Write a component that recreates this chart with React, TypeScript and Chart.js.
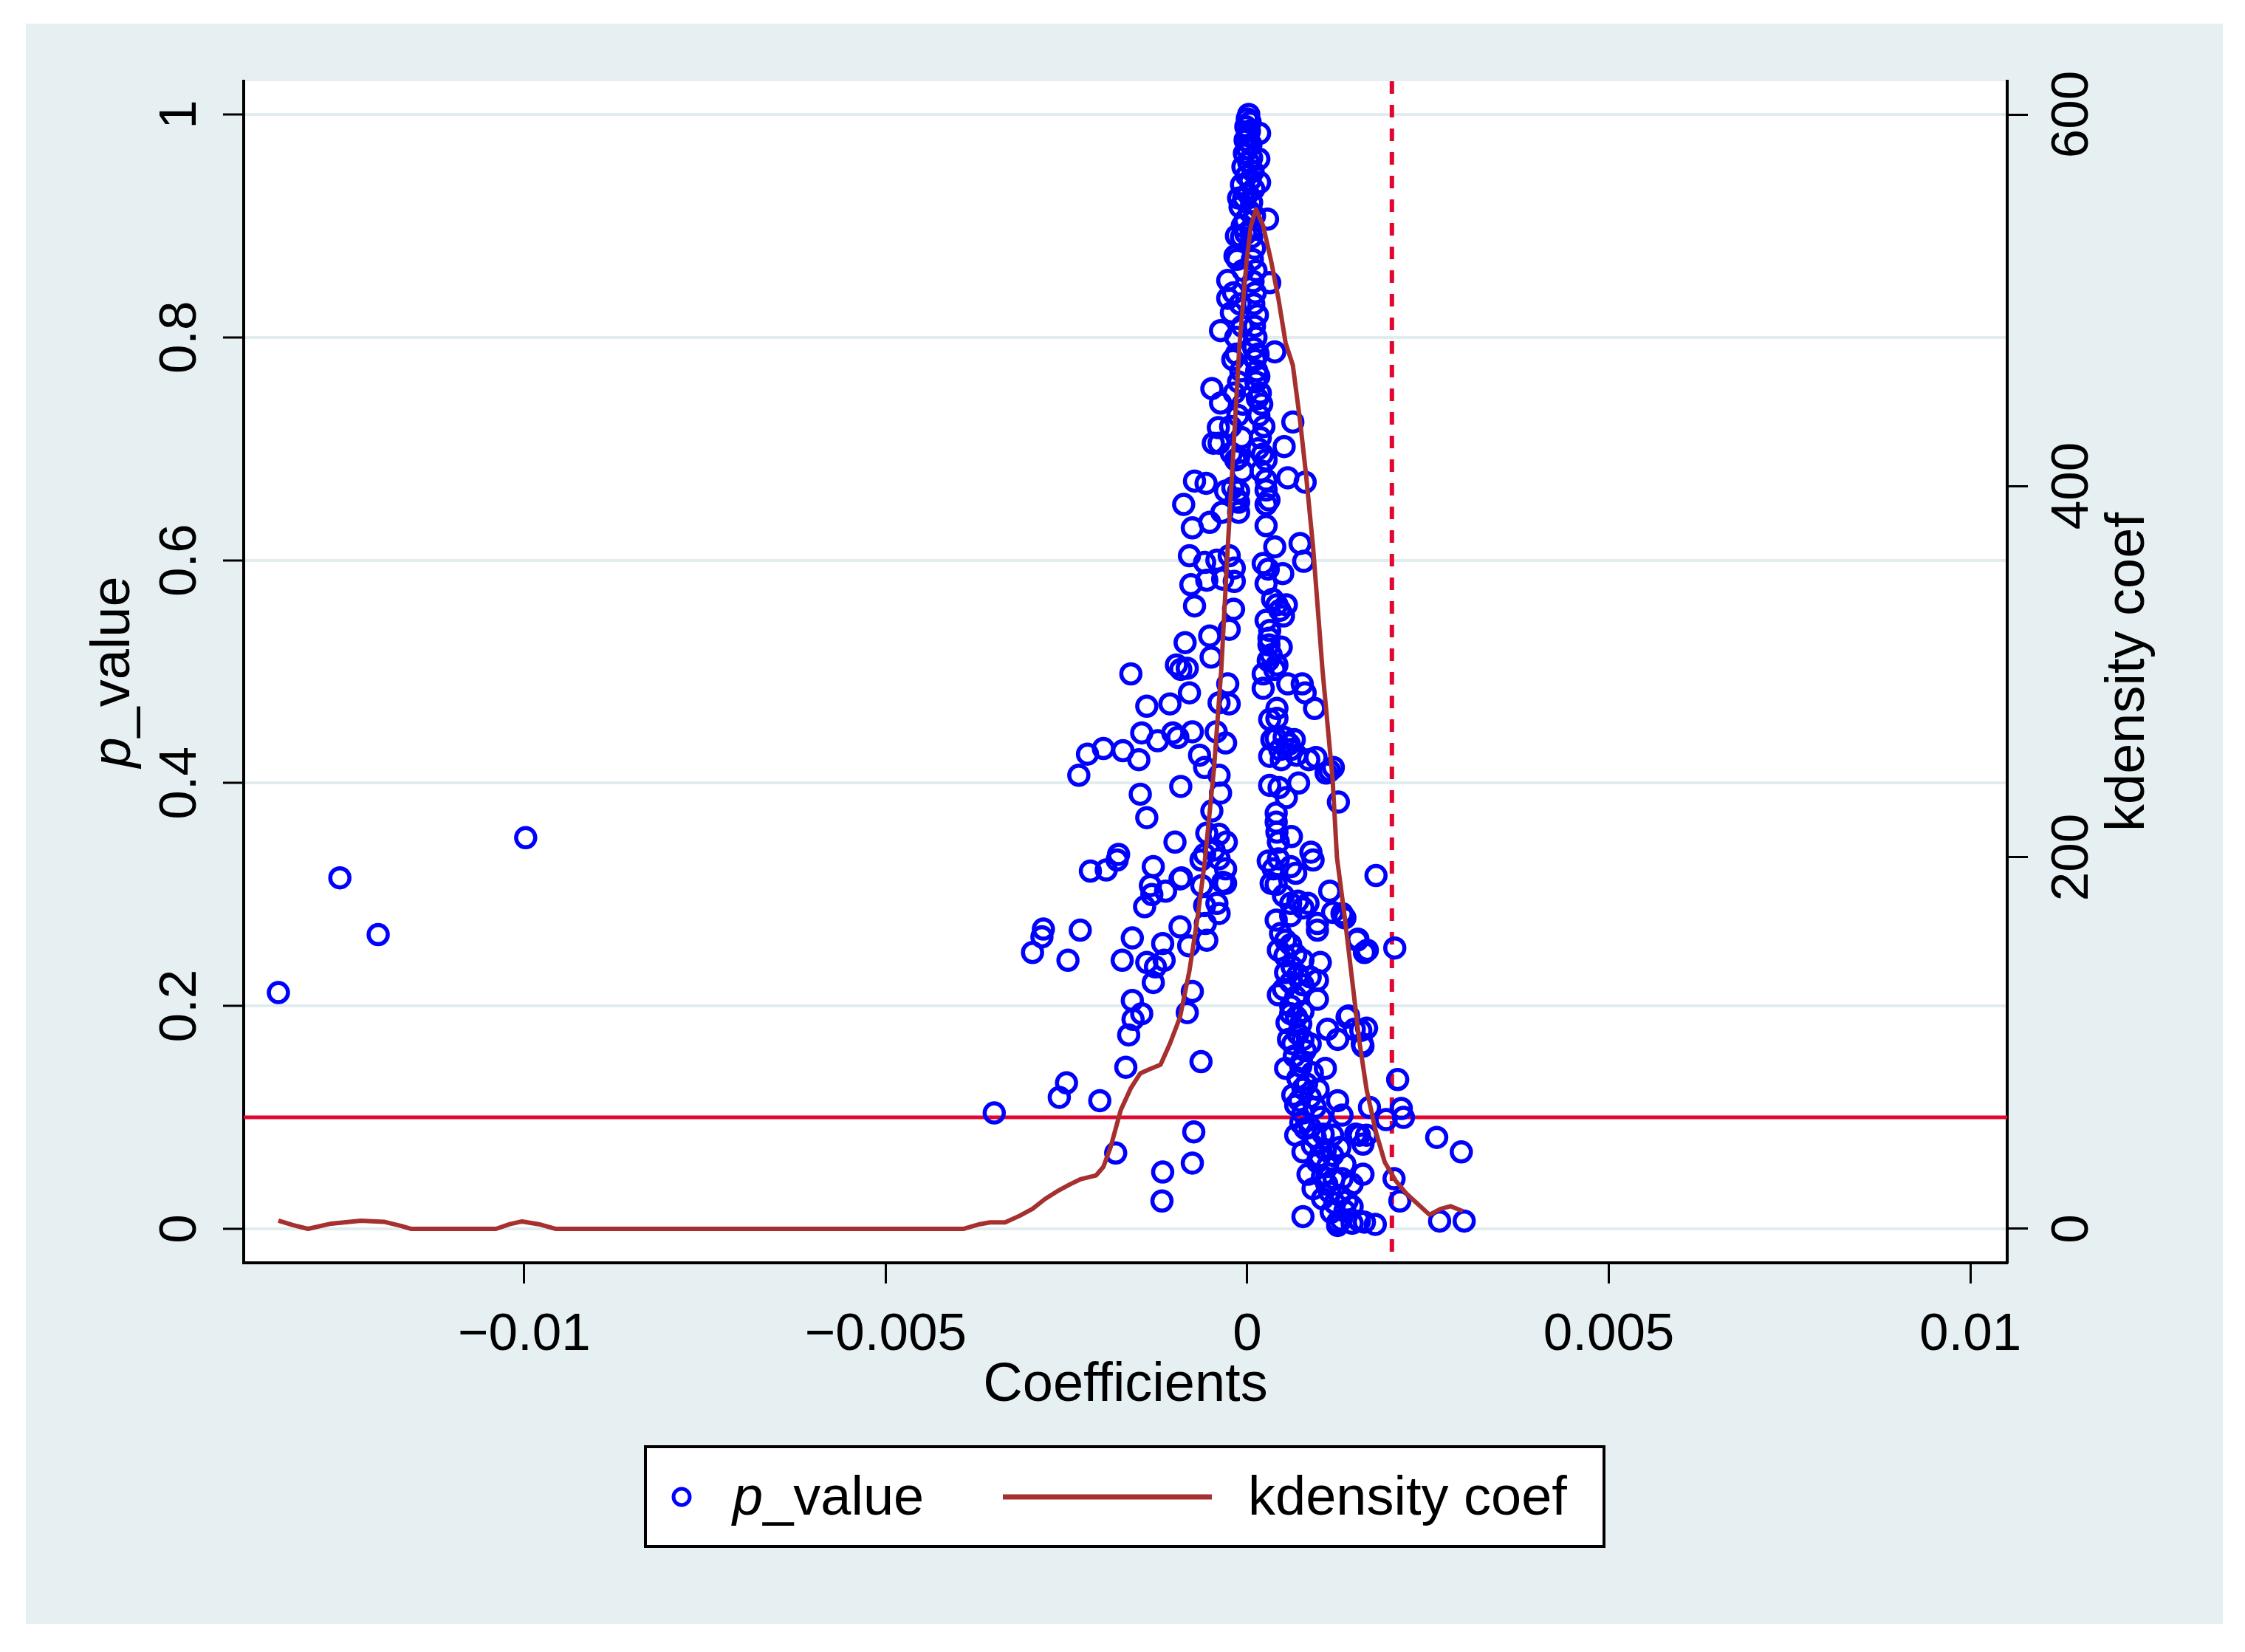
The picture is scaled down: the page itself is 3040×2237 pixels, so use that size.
import React, { useEffect, useRef } from 'react';
import { Chart, registerables } from 'chart.js';

Chart.register(...registerables);

const FONT = '"Liberation Sans", Arial, Helvetica, sans-serif';

// ---- axis ranges & ticks ----
const coefMin = -0.01388;
const coefMax = 0.01051;
const pMin = -0.0305;
const pMax = 1.0298;
const densMin = -18.3;
const densMax = 617.9;

const xTickValues = [-0.01, -0.005, 0, 0.005, 0.01];
const xTickLabels = ['\u22120.01', '\u22120.005', '0', '0.005', '0.01'];
const pTickValues = [0, 0.2, 0.4, 0.6, 0.8, 1];
const pTickLabels = ['0', '0.2', '0.4', '0.6', '0.8', '1'];
const densTickValues = [0, 200, 400, 600];
const densTickLabels = ['0', '200', '400', '600'];

// reference lines
const pThreshold = 0.1;
const coefThreshold = 0.002;

// ---- scatter: coefficient vs p_value ----
const coef = [
  -0.0134, -0.01255, -0.01202, -0.00998, -0.0035, -0.00297, -0.00284, -0.00282, -0.0026, -0.0025,
  -0.00248, -0.00231, -0.00233, -0.00221, -0.00217, -0.00195, -0.00204, -0.00199, -0.0018, -0.00178,
  -0.00182, -0.00172, -0.00173, -0.00168, -0.00164, -0.00161, -0.00159, -0.00159, -0.00158, -0.0015,
  -0.00148, -0.00146, -0.00146, -0.00142, -0.00139, -0.00139, -0.00139, -0.00134, -0.00132, -0.0013,
  -0.0013, -0.00127, -0.00124, -0.00118, -0.00117, -0.00117, -0.00115, -0.00113, -0.00107, -0.00103,
  -0.001, -0.00098, -0.00096, -0.00093, -0.00091, -0.00093, -0.00092, -0.00092, -0.00088, -0.00086,
  -0.00083, -0.00083, -0.00081, -0.0008, -0.0008, -0.00078, -0.00076, -0.00076, -0.00076, -0.00076,
  -0.00074, -0.00073, -0.00073, -0.00066, -0.00064, -0.00064, -0.00063, -0.00059, -0.00059, -0.00059,
  -0.00059, -0.00058, -0.00057, -0.00056, -0.00056, -0.00056, -0.00052, -0.00052, -0.0005, -0.00049,
  -0.00049, -0.00047, -0.00046, -0.00043, -0.00042, -0.00042, -0.0004, -0.00039, -0.00039, -0.00039,
  -0.00039, -0.00039, -0.00039, -0.00037, -0.00037, -0.00037, -0.00035, -0.00034, -0.00034, -0.0003,
  -0.0003, -0.0003, -0.0003, -0.00029, -0.00027, -0.00027, -0.00027, -0.00025, -0.00025, -0.00025,
  -0.00022, -0.00022, -0.00019, -0.00018, -0.00018, -0.00017, -0.00015, -0.00015, -0.00012, -0.00012,
  -0.00012, -0.00012, -0.00012, -0.00012,
  -0.00008, -0.00014, -0.00006, -0.00019, -0.0001, -0.00007, -0.00016, -0.0002, -0.00009, -0.00018,
  -0.00006, -0.00013, -0.00023, -0.00008, -0.00016, -0.00007, -0.0002, -0.00015,
  0.00002, 0.0, 0.00004, -0.00002, 0.00003, 0.00001, -0.00003, 0.00005, 0.0, -0.00004,
  0.00006, 0.00002, -0.00006, 0.00008, -0.00001, 0.00004, -0.00008, 0.00009, 0.00001, -0.00005,
  0.00006, -0.0001, 0.00003, 0.0001, -0.00003, -0.00007, 0.00005, -0.00002, 0.00016, 0.00017,
  0.00017, 0.00028,
  0.00006, 0.0001, 0.00007, 0.00012, 0.00008, 0.00011, 0.00009, 0.00014, 0.0001, 0.00012,
  0.00009, 0.00015, 0.00011, 0.00013, 0.00016, 0.00012, 0.00018, 0.00014, 0.0002, 0.00016,
  0.00023, 0.00018, 0.00015, 0.00021, 0.00026, 0.00019, 0.00031, 0.00038, 0.00063, 0.00051,
  0.00026, 0.00026, 0.0003, 0.00026, 0.00056, 0.0008, 0.00026, 0.00038, 0.00073, 0.00078,
  0.00022, 0.00029, 0.00049, 0.00026, 0.00041, 0.00054, 0.00035, 0.00045, 0.0005, 0.00031,
  0.00026, 0.0003, 0.00033, 0.00029, 0.00047, 0.0003, 0.00041, 0.00038, 0.00022, 0.00022,
  0.00056, 0.00076, 0.0008, 0.00093, 0.00041, 0.00041, 0.00031, 0.00034, 0.00051, 0.00065,
  0.0004, 0.00058, 0.00045, 0.0006, 0.00031, 0.00047, 0.00068, 0.00085, 0.00095, 0.00109,
  0.00119, 0.00114, 0.00031, 0.00044, 0.00071, 0.00054, 0.00126, 0.0004, 0.0004, 0.00041,
  0.00043, 0.00061, 0.00088,
  0.00029, 0.00036, 0.00043, 0.0006, 0.00067, 0.00091, 0.00033, 0.0004, 0.0005, 0.0006,
  0.0007, 0.00084, 0.00077, 0.00114, 0.00131, 0.00135, 0.00152, 0.00162, 0.0004, 0.0006,
  0.00097, 0.00097, 0.00053, 0.0006, 0.00043, 0.00067, 0.00077, 0.00101, 0.00053, 0.0007,
  0.00087, 0.00097, 0.0006, 0.00077, 0.00043, 0.00067, 0.00097, 0.0006, 0.00077, 0.00074,
  0.00057, 0.00063, 0.00077, 0.00087, 0.00111, 0.00125, 0.00138, 0.00148, 0.00159, 0.00053,
  0.00074, 0.00108, 0.0007, 0.00077, 0.00063, 0.00087, 0.00125, 0.00067, 0.00077, 0.00094,
  0.00131, 0.00074, 0.00087, 0.00067, 0.00094, 0.00118, 0.00155, 0.00077, 0.00108, 0.00128,
  0.00097, 0.00111, 0.00135, 0.00084, 0.00104, 0.00131, 0.00091, 0.00114, 0.00145, 0.00104,
  0.00121, 0.00135, 0.00077, 0.00125, 0.00155, 0.00145,
  0.00046, 0.00052, 0.00062, 0.0005, 0.0006, 0.00068, 0.00055, 0.0007, 0.0008, 0.00065,
  0.00075, 0.0009, 0.00082, 0.00098, 0.00072, 0.00102, 0.0008, 0.00105, 0.0009, 0.00118,
  0.001, 0.0012, 0.0011, 0.00128, 0.00138, 0.00116, 0.0013,
  0.00178, 0.00118, 0.00133, 0.00153, 0.00166, 0.00204, 0.0014, 0.00157, 0.0016, 0.00165,
  0.00208, 0.00169, 0.00192, 0.00213, 0.00216, 0.00165, 0.00262, 0.00296, 0.0015, 0.0016,
  0.0016, 0.00203, 0.00211, 0.00177, 0.00266, 0.003, 0.00125, 0.00145, 0.00162,
];

const pValue = [
  0.212, 0.315, 0.264, 0.351, 0.104, 0.248, 0.262, 0.269, 0.118, 0.131,
  0.241, 0.268, 0.407, 0.426, 0.321, 0.322, 0.115, 0.431, 0.331, 0.336,
  0.068, 0.429, 0.241, 0.145, 0.174, 0.498, 0.261, 0.205, 0.188, 0.421,
  0.39, 0.445, 0.193, 0.289, 0.469, 0.369, 0.239, 0.308, 0.3, 0.325,
  0.221, 0.235, 0.438, 0.025, 0.051, 0.256, 0.241, 0.303, 0.471, 0.445,
  0.347, 0.506, 0.441, 0.314, 0.315, 0.271, 0.502, 0.397, 0.65, 0.526,
  0.503, 0.194, 0.254, 0.604, 0.481, 0.578, 0.629, 0.446, 0.213, 0.059,
  0.087, 0.671, 0.559, 0.425, 0.331, 0.15, 0.308, 0.598, 0.414, 0.29,
  0.336, 0.274, 0.669, 0.582, 0.355, 0.259, 0.634, 0.532, 0.513, 0.754,
  0.375, 0.705, 0.34, 0.446, 0.6, 0.292, 0.719, 0.705, 0.472, 0.407,
  0.354, 0.332, 0.283, 0.806, 0.741, 0.391, 0.643, 0.583, 0.311, 0.662,
  0.436, 0.323, 0.31, 0.347, 0.851, 0.835, 0.489, 0.604, 0.538, 0.471,
  0.822, 0.696, 0.556, 0.593, 0.581, 0.873, 0.891, 0.785, 0.76, 0.692,
  0.662, 0.652, 0.643, 0.925,
  0.89, 0.87, 0.86, 0.84, 0.83, 0.81, 0.8, 0.78, 0.77, 0.75,
  0.74, 0.73, 0.72, 0.71, 0.69, 0.68, 0.665, 0.655,
  1.0, 0.996, 0.993, 0.989, 0.985, 0.981, 0.977, 0.973, 0.969, 0.965,
  0.961, 0.957, 0.953, 0.949, 0.945, 0.941, 0.937, 0.933, 0.929, 0.925,
  0.921, 0.917, 0.913, 0.909, 0.905, 0.9, 0.897, 0.893, 0.96, 0.983,
  0.939, 0.906,
  0.89, 0.88, 0.87, 0.86, 0.85, 0.84, 0.83, 0.82, 0.81, 0.8,
  0.79, 0.785, 0.78, 0.77, 0.765, 0.76, 0.75, 0.745, 0.74, 0.73,
  0.72, 0.71, 0.7, 0.695, 0.69, 0.68, 0.849, 0.787, 0.724, 0.702,
  0.672, 0.663, 0.654, 0.65, 0.674, 0.67, 0.631, 0.612, 0.615, 0.599,
  0.597, 0.592, 0.588, 0.579, 0.56, 0.56, 0.565, 0.555, 0.55, 0.537,
  0.546, 0.53, 0.515, 0.51, 0.522, 0.524, 0.506, 0.502, 0.498, 0.485,
  0.489, 0.489, 0.481, 0.467, 0.467, 0.458, 0.457, 0.439, 0.441, 0.439,
  0.44, 0.435, 0.43, 0.43, 0.424, 0.421, 0.425, 0.421, 0.423, 0.409,
  0.414, 0.411, 0.398, 0.396, 0.4, 0.387, 0.383, 0.373, 0.365, 0.356,
  0.347, 0.352, 0.338,
  0.33, 0.323, 0.332, 0.325, 0.319, 0.331, 0.31, 0.309, 0.299, 0.292,
  0.294, 0.292, 0.288, 0.303, 0.283, 0.279, 0.259, 0.248, 0.277, 0.281,
  0.274, 0.268, 0.259, 0.255, 0.25, 0.246, 0.241, 0.239, 0.23, 0.228,
  0.226, 0.223, 0.221, 0.219, 0.21, 0.208, 0.206, 0.193, 0.195, 0.184,
  0.17, 0.166, 0.17, 0.166, 0.179, 0.17, 0.19, 0.179, 0.166, 0.144,
  0.146, 0.144, 0.135, 0.126, 0.12, 0.118, 0.115, 0.111, 0.104, 0.109,
  0.102, 0.095, 0.091, 0.084, 0.082, 0.084, 0.084, 0.069, 0.071, 0.073,
  0.06, 0.056, 0.058, 0.049, 0.047, 0.045, 0.036, 0.033, 0.04, 0.027,
  0.023, 0.016, 0.011, 0.003, 0.007, 0.02,
  0.265, 0.245, 0.235, 0.215, 0.2, 0.19, 0.185, 0.175, 0.16, 0.155,
  0.15, 0.14, 0.13, 0.125, 0.115, 0.1, 0.09, 0.085, 0.075, 0.066,
  0.065, 0.045, 0.04, 0.03, 0.025, 0.015, 0.008,
  0.317, 0.284, 0.28, 0.26, 0.25, 0.252, 0.191, 0.178, 0.164, 0.18,
  0.134, 0.109, 0.098, 0.108, 0.1, 0.084, 0.082, 0.069, 0.085, 0.076,
  0.049, 0.045, 0.025, 0.004, 0.007, 0.007, 0.006, 0.005, 0.006,
];

// ---- kernel density of coefficients ----
const kdCoef = [
  -0.0134, -0.0132, -0.01299, -0.01267, -0.01226, -0.01194, -0.0117, -0.01157, -0.01039, -0.0102,
  -0.01003, -0.0098, -0.00957, -0.00392, -0.0037, -0.00356, -0.00335, -0.00315, -0.00297, -0.0028,
  -0.00263, -0.00245, -0.0023, -0.00209, -0.00199, -0.00189, -0.00175, -0.00161, -0.00148, -0.00135,
  -0.0012, -0.00107, -0.00093, -0.0008, -0.00069, -0.00059, -0.00046, -0.00036, -0.00027, -0.00021,
  -0.00011, -0.00001, 0.00005, 0.00012, 0.00022, 0.00033, 0.00043, 0.00053, 0.00063, 0.00073,
  0.00081, 0.00091, 0.00104, 0.00118, 0.00124, 0.00135, 0.00145, 0.00155, 0.00165, 0.00178,
  0.0019, 0.00205, 0.0022, 0.00234, 0.00252, 0.00267, 0.00281, 0.00298,
];
const kdDensity = [
  4.4, 2, 0, 2.8, 4.4, 3.8, 1.5, 0, 0, 2.5,
  4, 2.5, 0, 0, 2.5, 3.5, 3.5, 7, 10.8, 16,
  20.2, 24, 26.8, 28.8, 33.4, 44, 63.9, 75.8, 83.7, 86,
  88.4, 99.7, 114, 139, 167, 197, 248, 301, 367, 407,
  475, 521, 540, 549, 540, 521, 501, 477, 465, 435,
  407, 367, 301, 242, 200, 167, 134, 101, 75, 52,
  36, 26, 19, 14, 7.6, 10.7, 12.2, 9.5,
];

const BLUE = '#0000ff';
const MAROON = '#a5302f';
const RED = '#e0062f';
const GRID = '#e1ecee';
const PANEL = '#e6f0f2';

const labelOf = (values: number[], labels: string[]) => (v: number | string) => {
  const i = values.indexOf(Number(v));
  return i >= 0 ? labels[i] : '';
};

const decorPlugin = {
  id: 'stataDecor',
  beforeDraw(chart: any) {
    const { ctx, chartArea } = chart;
    ctx.save();
    ctx.fillStyle = '#ffffff';
    ctx.fillRect(0, 0, chart.width, chart.height);
    ctx.fillStyle = PANEL;
    ctx.fillRect(35, 32, 2975, 2167);
    ctx.fillStyle = '#ffffff';
    ctx.fillRect(chartArea.left, chartArea.top, chartArea.right - chartArea.left, chartArea.bottom - chartArea.top);
    ctx.restore();
  },
  beforeDatasetsDraw(chart: any) {
    const { ctx, chartArea, scales } = chart;
    ctx.save();
    ctx.beginPath();
    ctx.rect(chartArea.left, chartArea.top, chartArea.right - chartArea.left, chartArea.bottom - chartArea.top);
    ctx.clip();
    const yPix = scales.y.getPixelForValue(pThreshold);
    ctx.strokeStyle = RED;
    ctx.lineWidth = 5;
    ctx.beginPath();
    ctx.moveTo(chartArea.left, yPix);
    ctx.lineTo(chartArea.right, yPix);
    ctx.stroke();
    const xPix = scales.x.getPixelForValue(coefThreshold);
    ctx.lineWidth = 6;
    ctx.setLineDash([17, 15]);
    ctx.beginPath();
    ctx.moveTo(xPix, chartArea.top);
    ctx.lineTo(xPix, chartArea.bottom);
    ctx.stroke();
    ctx.restore();
  },
  afterDraw(chart: any) {
    const { ctx, chartArea } = chart;
    const midY = (chartArea.top + chartArea.bottom) / 2;
    const regular = `74px ${FONT}`;
    const italic = `italic 74px ${FONT}`;

    // left axis title: p_value (italic p)
    ctx.save();
    ctx.fillStyle = '#000';
    ctx.textBaseline = 'middle';
    ctx.textAlign = 'left';
    ctx.translate(155, midY);
    ctx.rotate(-Math.PI / 2);
    ctx.font = italic;
    const wp = ctx.measureText('p').width;
    ctx.font = regular;
    const wv = ctx.measureText('_value').width;
    const sx = -(wp + wv) / 2;
    ctx.font = italic;
    ctx.fillText('p', sx, 0);
    ctx.font = regular;
    ctx.fillText('_value', sx + wp, 0);
    ctx.restore();

    // right axis title
    ctx.save();
    ctx.fillStyle = '#000';
    ctx.textBaseline = 'middle';
    ctx.textAlign = 'center';
    ctx.font = regular;
    ctx.translate(2883, midY);
    ctx.rotate(-Math.PI / 2);
    ctx.fillText('kdensity coef', 0, 0);
    ctx.restore();

    // legend
    ctx.save();
    ctx.fillStyle = '#ffffff';
    ctx.fillRect(874, 1959, 1298, 135);
    ctx.strokeStyle = '#000';
    ctx.lineWidth = 4;
    ctx.strokeRect(874, 1959, 1298, 135);
    ctx.strokeStyle = BLUE;
    ctx.lineWidth = 5;
    ctx.beginPath();
    ctx.arc(923, 2027, 11, 0, Math.PI * 2);
    ctx.stroke();
    ctx.fillStyle = '#000';
    ctx.textBaseline = 'alphabetic';
    ctx.textAlign = 'left';
    ctx.font = italic;
    const lp = ctx.measureText('p').width;
    ctx.fillText('p', 992, 2051);
    ctx.font = regular;
    ctx.fillText('_value', 992 + lp, 2051);
    ctx.strokeStyle = MAROON;
    ctx.lineWidth = 7;
    ctx.beginPath();
    ctx.moveTo(1358, 2027);
    ctx.lineTo(1641, 2027);
    ctx.stroke();
    ctx.fillText('kdensity coef', 1690, 2051);
    ctx.restore();
  },
};

export default function App() {
  const ref = useRef<HTMLCanvasElement | null>(null);

  useEffect(() => {
    const canvas = ref.current;
    if (!canvas) return;
    const scatterData = coef.map((c, i) => ({ x: c, y: pValue[i] }));
    const kdData = kdCoef.map((c, i) => ({ x: c, y: kdDensity[i] }));
    const tickFont = { family: FONT, size: 71 };

    const chart = new Chart(canvas, {
      type: 'scatter',
      data: {
        datasets: [
          {
            type: 'line',
            label: 'kdensity coef',
            data: kdData,
            yAxisID: 'y2',
            xAxisID: 'x',
            borderColor: MAROON,
            borderWidth: 6,
            pointRadius: 0,
            fill: false,
            tension: 0,
            borderJoinStyle: 'round',
            order: 0,
          } as any,
          {
            type: 'scatter',
            label: 'p_value',
            data: scatterData,
            yAxisID: 'y',
            xAxisID: 'x',
            pointStyle: 'circle',
            pointRadius: 13,
            borderWidth: 5.5,
            borderColor: BLUE,
            backgroundColor: 'rgba(0,0,0,0)',
            order: 1,
          } as any,
        ],
      },
      options: {
        responsive: false,
        maintainAspectRatio: false,
        devicePixelRatio: 1,
        animation: false,
        events: [],
        layout: { padding: { left: 0, right: 0, top: 110, bottom: 307 } },
        plugins: {
          legend: { display: false },
          tooltip: { enabled: false },
        },
        scales: {
          x: {
            type: 'linear',
            position: 'bottom',
            min: coefMin,
            max: coefMax,
            afterBuildTicks: (s: any) => {
              s.ticks = xTickValues.map((v) => ({ value: v }));
            },
            afterFit: (s: any) => {
              s.height = 220;
            },
            ticks: {
              autoSkip: false,
              minRotation: 0,
              maxRotation: 0,
              padding: 28,
              color: '#000',
              font: tickFont,
              callback: labelOf(xTickValues, xTickLabels),
            },
            grid: {
              drawOnChartArea: false,
              drawTicks: true,
              tickLength: 28,
              tickWidth: 3,
              tickColor: '#000',
            },
            border: { display: true, color: '#000', width: 4 },
            title: {
              display: true,
              text: 'Coefficients',
              color: '#000',
              font: { family: FONT, size: 74 },
              padding: { top: 0, bottom: 9 },
            },
          },
          y: {
            type: 'linear',
            position: 'left',
            min: pMin,
            max: pMax,
            afterBuildTicks: (s: any) => {
              s.ticks = pTickValues.map((v) => ({ value: v }));
            },
            afterFit: (s: any) => {
              s.width = 330;
            },
            ticks: {
              autoSkip: false,
              minRotation: 90,
              maxRotation: 90,
              crossAlign: 'center',
              padding: 7,
              color: '#000',
              font: tickFont,
              callback: labelOf(pTickValues, pTickLabels),
            },
            grid: {
              drawOnChartArea: true,
              color: GRID,
              lineWidth: 4,
              drawTicks: true,
              tickLength: 28,
              tickWidth: 3,
              tickColor: '#000',
            },
            border: { display: true, color: '#000', width: 4 },
          },
          y2: {
            type: 'linear',
            position: 'right',
            min: densMin,
            max: densMax,
            afterBuildTicks: (s: any) => {
              s.ticks = densTickValues.map((v) => ({ value: v }));
            },
            afterFit: (s: any) => {
              s.width = 322;
            },
            ticks: {
              autoSkip: false,
              minRotation: 90,
              maxRotation: 90,
              crossAlign: 'center',
              padding: 2,
              color: '#000',
              font: tickFont,
              callback: labelOf(densTickValues, densTickLabels),
            },
            grid: {
              drawOnChartArea: false,
              drawTicks: true,
              tickLength: 28,
              tickWidth: 3,
              tickColor: '#000',
            },
            border: { display: true, color: '#000', width: 4 },
          },
        },
      } as any,
      plugins: [decorPlugin],
    });

    return () => chart.destroy();
  }, []);

  return (
    <div style={{ position: 'absolute', left: 0, top: 0, width: 3040, height: 2237, background: '#fff' }}>
      <canvas ref={ref} width={3040} height={2237} style={{ display: 'block', width: 3040, height: 2237 }} />
    </div>
  );
}
